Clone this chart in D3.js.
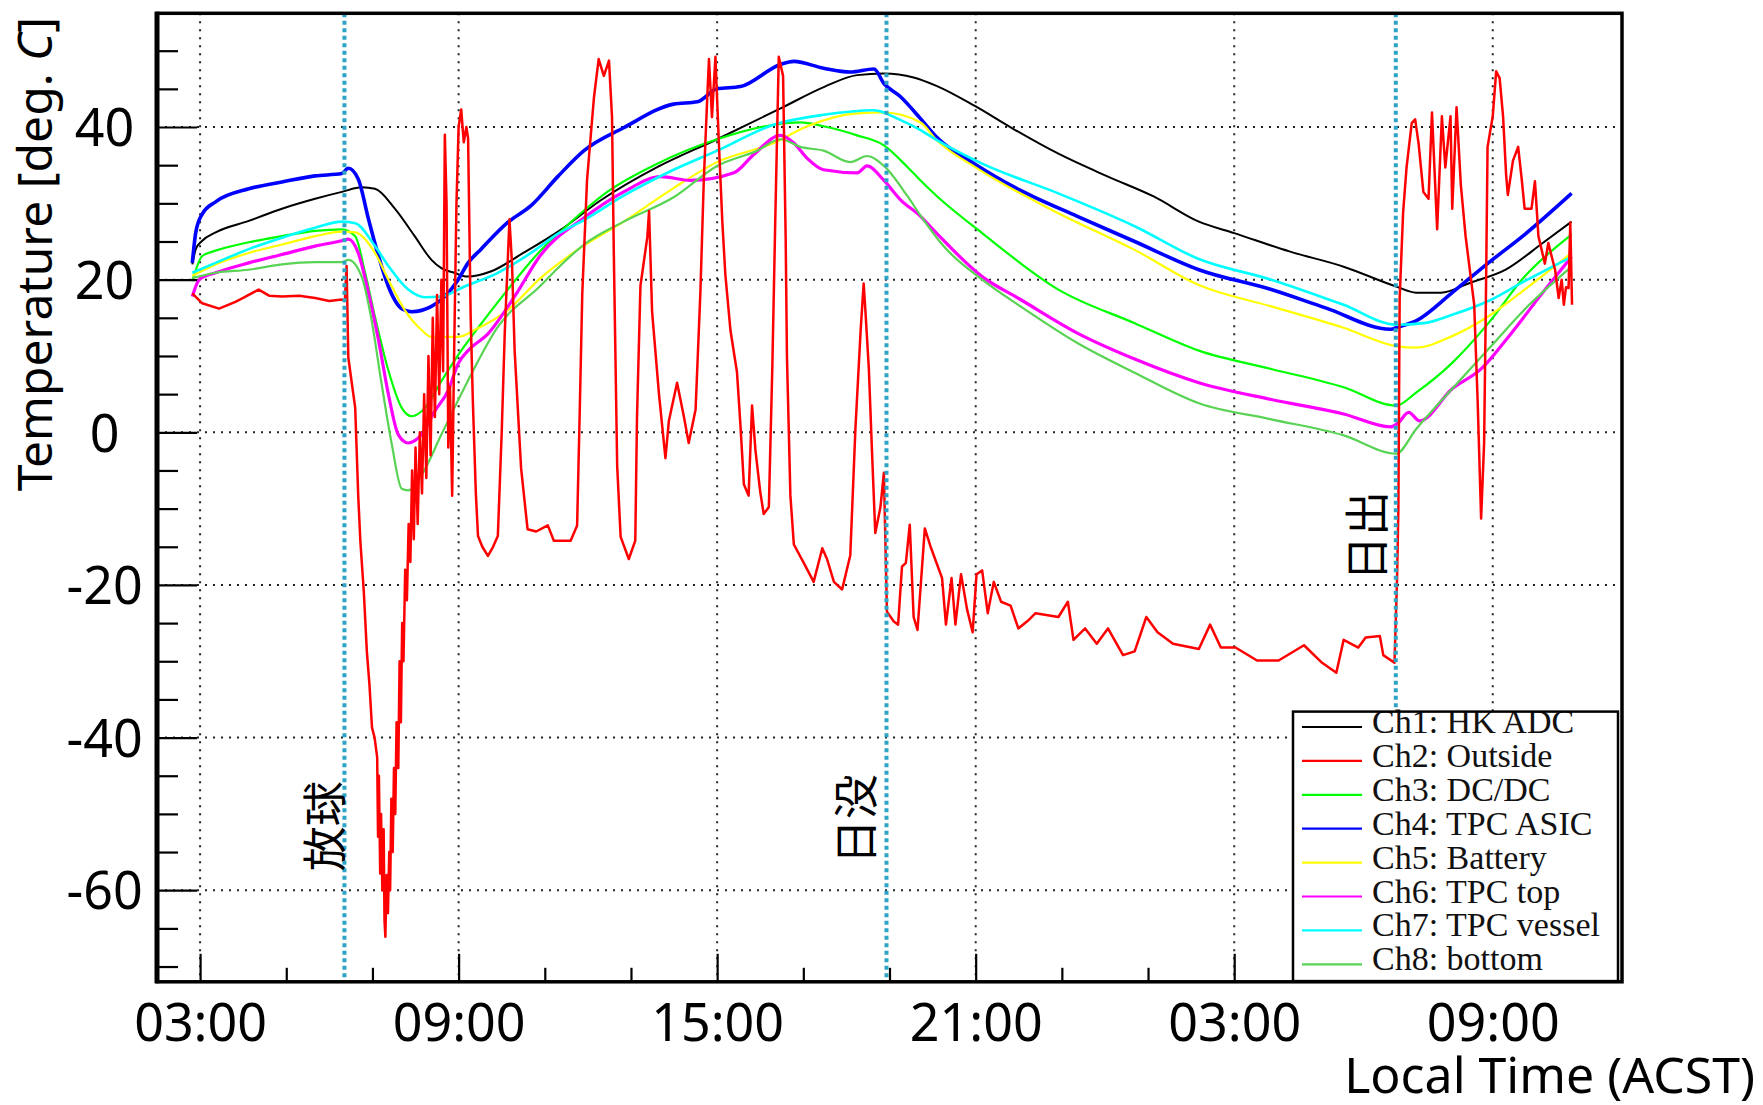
<!DOCTYPE html>
<html>
<head>
<meta charset="utf-8">
<script src="https://cdn.jsdelivr.net/npm/d3@7"></script>
<style>
  html, body { margin: 0; padding: 0; background: #fff; }
  svg { display: block; }
</style>
</head>
<body>
<svg id="chart" width="1763" height="1105"></svg>
<script>
// ---------------- DATA (hours since 00:00 of day 1, temperature in deg C) ----------------
const xTickHours  = [3, 9, 15, 21, 27, 33];
const xTickLabels = ["03:00", "09:00", "15:00", "21:00", "03:00", "09:00"];
const xMinorHours = [5, 7, 11, 13, 17, 19, 23, 25, 29, 31, 35];
const yTickValues = [-60, -40, -20, 0, 20, 40];
const yTickLabels = ["-60", "-40", "-20", "0", "20", "40"];
const yMinorValues = [-70,-65,-55,-50,-45,-35,-30,-25,-15,-10,-5,5,10,15,25,30,35,45,50];

const eventHours  = [6.35, 18.93, 30.75];
const eventLabels = ["放球", "日没", "日出"];

const seriesNames = ["Ch1: HK ADC", "Ch2: Outside", "Ch3: DC/DC", "Ch4: TPC ASIC",
                     "Ch5: Battery", "Ch6: TPC top", "Ch7: TPC vessel", "Ch8: bottom"];

const ch1 = [[2.82,22.0],[2.9,24.0],[3.05,25.1],[3.36,26.2],[4.13,27.7],[4.9,29.3],[5.67,30.6],[6.29,31.5],[6.75,32.1],[7.06,31.9],[7.52,29.3],[7.98,25.7],[8.37,22.6],[8.6,21.5],[8.9,20.9],[9.2,20.4],[9.76,21.1],[10.5,23.5],[11.36,26.5],[12.3,30.4],[13.63,34.8],[15.0,38.4],[16.46,42.4],[17.5,45.3],[18.25,46.8],[18.87,47.0],[19.56,46.5],[20.09,45.4],[20.97,42.8],[21.86,39.8],[22.92,36.5],[24.07,33.5],[25.13,30.9],[26.18,27.6],[27.0,26.1],[28.28,23.7],[29.54,21.7],[30.76,19.1],[31.22,18.3],[31.8,18.3],[32.48,19.6],[33.3,21.3],[34.16,24.8],[34.83,27.6]];

const ch2 = [[2.82,18.2],[3.05,16.9],[3.44,16.2],[3.82,17.1],[4.0,17.6],[4.36,18.7],[4.6,17.9],[4.9,17.8],[5.3,17.9],[5.67,17.6],[6.0,17.2],[6.29,17.4],[6.36,17.2],[6.4,21.8],[6.44,9.8],[6.6,3.2],[6.67,-8.3],[6.72,-14.3],[6.8,-20.9],[6.87,-28.7],[6.93,-33],[6.99,-38.7],[7.05,-40],[7.11,-42.6],[7.13,-53],[7.15,-45],[7.18,-57.8],[7.2,-50],[7.23,-60],[7.26,-52],[7.28,-64],[7.3,-66.1],[7.33,-58],[7.36,-63],[7.39,-55],[7.41,-60],[7.44,-48],[7.47,-55],[7.5,-44],[7.53,-50],[7.56,-38],[7.6,-44],[7.63,-30],[7.66,-38],[7.69,-25],[7.72,-30],[7.76,-18],[7.8,-22],[7.84,-12],[7.88,-17],[7.92,-5],[7.96,-14],[8.0,-2],[8.05,-12],[8.1,0],[8.15,-8],[8.2,5],[8.25,-6],[8.3,10],[8.35,-3],[8.4,15],[8.45,2],[8.5,18],[8.55,5],[8.6,20],[8.64,8],[8.68,39],[8.72,30],[8.76,-2],[8.8,6],[8.85,-8.3],[8.9,12],[8.95,30],[9.0,40],[9.06,42.3],[9.12,38],[9.18,40],[9.22,38.5],[9.28,15],[9.33,4.1],[9.4,-8],[9.45,-13.6],[9.55,-15],[9.68,-16.2],[9.8,-15],[9.91,-13.6],[10.0,0],[10.07,12.9],[10.18,27.9],[10.24,22],[10.3,10.7],[10.45,-4.7],[10.6,-12.7],[10.8,-13],[11.07,-12.2],[11.21,-14.2],[11.6,-14.2],[11.75,-12.2],[11.81,2.5],[11.87,18.2],[11.98,33.0],[12.14,43.8],[12.25,48.9],[12.37,46.7],[12.49,48.7],[12.56,41.3],[12.6,24.1],[12.68,-4.4],[12.76,-13.7],[12.95,-16.6],[13.1,-14.2],[13.14,2.0],[13.22,19.2],[13.38,25.6],[13.42,29.0],[13.49,15.8],[13.65,5.0],[13.8,-3.4],[13.88,1.5],[14.07,6.5],[14.23,2.0],[14.34,-1.4],[14.5,3.0],[14.61,18.2],[14.69,33.0],[14.77,43.8],[14.81,48.9],[14.88,41.3],[14.96,49.2],[15.04,37.9],[15.12,27.6],[15.19,20.7],[15.31,13.3],[15.46,7.9],[15.54,1.0],[15.62,-6.8],[15.73,-8.3],[15.81,3.5],[15.89,-2.4],[16.0,-7.8],[16.08,-10.7],[16.2,-9.8],[16.28,8.4],[16.35,28.1],[16.43,49.2],[16.53,46.7],[16.59,25.6],[16.62,9.9],[16.7,-8.3],[16.78,-14.7],[17.01,-17.1],[17.24,-19.6],[17.44,-15.2],[17.55,-16.6],[17.71,-19.6],[17.9,-20.6],[18.09,-16.1],[18.21,0.6],[18.33,13.3],[18.4,19.5],[18.44,16],[18.52,8.4],[18.6,-3.4],[18.67,-13.2],[18.79,-9.8],[18.87,-5.3],[18.94,-23.5],[19.1,-24.8],[19.2,-25.2],[19.29,-17.6],[19.38,-17.1],[19.47,-12.1],[19.56,-24.2],[19.65,-25.9],[19.82,-12.6],[19.96,-15.1],[20.09,-17.1],[20.22,-19.1],[20.31,-25.2],[20.44,-19.1],[20.53,-25.2],[20.66,-18.6],[20.8,-23.2],[20.93,-26.2],[21.02,-18.6],[21.15,-18.1],[21.28,-23.7],[21.42,-19.6],[21.59,-22.2],[21.81,-22.7],[21.99,-25.7],[22.21,-24.7],[22.39,-23.7],[22.92,-24.2],[23.14,-22.2],[23.27,-27.2],[23.54,-25.7],[23.81,-27.7],[24.07,-25.7],[24.42,-29.2],[24.69,-28.7],[24.96,-24.2],[25.22,-26.2],[25.58,-27.7],[26.18,-28.4],[26.44,-25.2],[26.69,-28.2],[27.03,-28.2],[27.53,-29.9],[28.03,-29.9],[28.62,-27.9],[29.04,-30.2],[29.37,-31.5],[29.54,-27.2],[29.88,-28.2],[30.05,-26.9],[30.38,-26.7],[30.46,-29.2],[30.72,-30.2],[30.78,-19.1],[30.81,-10],[30.84,17.6],[30.92,28.8],[31.0,34.7],[31.12,40.5],[31.2,41.0],[31.28,37.8],[31.39,31.5],[31.51,30.6],[31.59,41.9],[31.71,26.6],[31.82,41.4],[31.9,34.7],[32.02,41.4],[32.06,29.3],[32.16,42.6],[32.26,32.4],[32.37,25.7],[32.45,22.1],[32.57,16.7],[32.65,4.1],[32.73,-11.3],[32.8,-1.4],[32.84,16.7],[32.88,37.4],[33.0,41.4],[33.08,47.3],[33.16,46.4],[33.24,41.4],[33.31,33.8],[33.35,31.1],[33.47,35.6],[33.59,37.4],[33.67,33.3],[33.74,29.3],[33.9,29.3],[33.98,32.9],[34.06,25.7],[34.21,22.1],[34.29,24.8],[34.45,21.2],[34.53,17.6],[34.6,20],[34.65,16.7],[34.7,19],[34.76,18.9],[34.8,27.5],[34.84,16.7]];

const ch3 = [[2.82,19.8],[3.05,23.1],[3.36,23.8],[4.13,24.9],[4.9,25.7],[5.67,26.4],[6.29,26.6],[6.6,25.7],[6.83,20.9],[7.06,15.1],[7.37,8.1],[7.68,3.2],[7.91,2.1],[8.22,3.2],[8.6,6.7],[9.06,10.7],[9.52,14.2],[10.14,18.7],[10.9,23.8],[11.5,27.0],[12.45,31.5],[13.61,35.2],[15.0,38.4],[16.31,40.3],[16.93,40.6],[17.47,40.1],[18.25,38.9],[18.87,37.6],[19.41,34.8],[19.72,33.0],[20.09,31.0],[21.15,26.1],[22.92,18.7],[24.69,14.3],[26.18,10.7],[27.86,8.3],[29.54,5.9],[30.76,3.5],[31.22,5.2],[32.06,9.1],[32.9,14.3],[33.74,20.4],[34.83,25.9]];

const ch4 = [[2.82,22.2],[2.9,26.2],[3.05,28.6],[3.36,30.2],[4.13,31.9],[4.9,32.8],[5.67,33.6],[6.29,33.9],[6.44,34.6],[6.67,33.2],[6.91,27.9],[7.14,23.1],[7.37,19.1],[7.68,16.2],[7.91,15.8],[8.37,16.5],[8.68,17.8],[8.99,20.0],[9.22,22.2],[9.52,24.0],[10.14,27.5],[10.68,29.7],[11.3,33.5],[11.91,36.9],[12.83,39.9],[13.99,43.0],[14.54,43.3],[15.0,45.0],[15.54,45.3],[16.47,48.2],[16.78,48.6],[17.47,47.7],[18.09,47.2],[18.64,47.6],[18.87,45.7],[19.25,44.0],[19.72,41.1],[20.09,38.7],[20.97,35.2],[22.04,31.7],[23.36,28.3],[24.69,25.0],[26.18,21.3],[27.86,18.7],[29.12,16.3],[30.63,13.5],[30.8,13.8],[31.22,14.6],[32.06,18.3],[32.9,22.2],[33.74,25.9],[34.83,31.3]];

const ch5 = [[2.82,20.5],[3.36,22.0],[4.13,23.5],[4.9,24.6],[5.67,25.7],[6.29,26.3],[6.6,26.2],[7.06,23.5],[7.37,20.0],[7.75,16.0],[8.14,13.4],[8.37,12.5],[8.99,12.5],[9.37,13.4],[10.14,16.0],[10.9,20.2],[11.68,23.6],[12.83,27.6],[13.99,32.0],[15.0,35.4],[16.31,37.9],[17.09,40.1],[18.25,41.8],[18.87,41.9],[19.72,40.6],[20.09,38.3],[20.97,34.8],[22.92,28.7],[24.69,23.9],[26.18,19.3],[27.86,16.5],[29.54,13.7],[30.76,11.3],[31.22,11.1],[32.06,12.6],[32.9,15.2],[33.74,18.7],[34.83,23.5]];

const ch6 = [[2.82,17.8],[2.98,20.0],[3.36,20.9],[4.13,22.2],[4.9,23.3],[5.67,24.4],[6.29,25.1],[6.44,25.3],[6.67,23.5],[6.91,18.2],[7.14,12.1],[7.37,5.0],[7.6,-0.3],[7.83,-1.4],[8.14,-0.3],[8.45,2.8],[8.76,5.5],[8.99,9.0],[9.22,10.7],[9.68,12.9],[10.3,17.8],[10.9,23.2],[11.91,28.1],[12.83,31.5],[13.69,33.5],[14.38,33.0],[15.39,34.0],[15.85,36.4],[16.47,38.9],[16.78,37.9],[17.09,35.9],[17.47,34.4],[18.25,34.0],[18.48,34.9],[18.87,33.0],[19.25,30.5],[19.72,28.3],[20.09,26.1],[21.15,20.4],[22.04,17.4],[23.36,13.0],[24.69,9.6],[26.18,6.5],[27.86,4.3],[29.54,2.4],[30.63,0.7],[30.8,1.2],[31.05,2.6],[31.3,1.5],[32.06,5.7],[32.73,8.3],[33.32,12.2],[34.16,18.3],[34.83,23.0]];

const ch7 = [[2.82,20.9],[3.36,22.2],[4.13,24.0],[4.9,25.5],[5.67,26.8],[6.29,27.6],[6.6,27.4],[7.06,24.4],[7.37,21.8],[7.83,18.7],[8.22,17.7],[8.6,17.8],[9.14,19.1],[9.91,20.9],[10.68,23.5],[11.3,26.0],[11.91,27.8],[12.83,31.0],[13.99,34.4],[15.0,36.9],[16.31,40.3],[17.47,41.6],[18.63,42.2],[18.87,41.9],[19.03,41.5],[19.72,39.6],[20.09,38.3],[21.15,35.2],[22.92,31.3],[24.69,27.0],[26.18,22.7],[27.86,20.0],[29.54,16.7],[30.76,14.1],[31.39,14.3],[32.06,15.4],[32.9,17.2],[33.74,19.8],[34.83,23.0]];

const ch8 = [[2.82,20.2],[3.36,20.9],[4.13,21.3],[4.9,22.0],[5.67,22.3],[6.29,22.3],[6.44,22.6],[6.75,20.4],[6.98,14.7],[7.2,6.8],[7.45,-1.6],[7.68,-7.4],[7.83,-7.6],[8.14,-5.6],[8.6,-0.3],[9.14,5.9],[9.91,13.8],[10.9,19.2],[11.3,21.5],[11.91,24.6],[12.83,27.6],[13.99,30.8],[15.0,34.9],[15.93,36.9],[16.47,38.4],[16.93,37.4],[17.47,36.9],[18.09,35.4],[18.48,36.2],[18.87,34.9],[19.41,31.0],[19.72,28.4],[20.27,24.3],[21.15,20.0],[22.04,16.5],[23.36,11.7],[24.69,7.8],[26.18,3.8],[27.86,1.7],[29.54,-0.4],[30.76,-2.8],[31.22,0.4],[32.06,5.7],[32.9,10.9],[33.74,16.1],[34.83,21.7]];

// ---------------- LAYOUT / STYLE ----------------
const W = 1763, H = 1105;
const plot = { left: 157, right: 1622, top: 13.3, bottom: 981.8 };
const seriesData   = [ch1, ch2, ch3, ch4, ch5, ch6, ch7, ch8];
const seriesColors = ["#000000", "#ff0000", "#00ff00", "#0000ff", "#ffff00", "#ff00ff", "#00ffff", "#59d354"];
const seriesWidths = [2, 2.5, 2.2, 3.6, 2.2, 3.2, 2.6, 2.2];
const seriesSmooth = [true, false, true, true, true, true, true, true];
const drawOrder    = [0, 2, 3, 4, 5, 6, 7, 1];
const eventLabelBottom = [-57.5, -56.6, -19.5];   // in temperature units
const eventLabelOffset = [-2, -13, -12];         // baseline x offset from the line (px)
const eventColor = "#2ba4c6";

const svg = d3.select("#chart");
const x = d3.scaleLinear().domain([2, 36]).range([plot.left, plot.right]);
const y = d3.scaleLinear().domain([-72, 54.9]).range([plot.bottom, plot.top]);

svg.append("rect").attr("width", W).attr("height", H).attr("fill", "#fff");

// grid
const grid = svg.append("g").attr("stroke", "#222").attr("stroke-width", 2).attr("stroke-dasharray", "2,6");
grid.selectAll("line.v").data(xTickHours).join("line")
  .attr("x1", d => x(d)).attr("x2", d => x(d)).attr("y1", plot.top).attr("y2", plot.bottom);
grid.selectAll("line.h").data(yTickValues).join("line")
  .attr("x1", plot.left).attr("x2", plot.right).attr("y1", d => y(d)).attr("y2", d => y(d));

// series
const lineSmooth = d3.line().x(d => x(d[0])).y(d => y(d[1])).curve(d3.curveMonotoneX);
const lineRaw    = d3.line().x(d => x(d[0])).y(d => y(d[1]));
const gSeries = svg.append("g").attr("fill", "none").attr("stroke-linejoin", "round");
drawOrder.forEach(i => {
  const gen = seriesSmooth[i] ? lineSmooth : lineRaw;
  gSeries.append("path").attr("d", gen(seriesData[i]))
    .attr("stroke", seriesColors[i]).attr("stroke-width", seriesWidths[i]);
});

// event lines
const gEv = svg.append("g");
gEv.selectAll("line").data(eventHours).join("line")
  .attr("x1", d => x(d)).attr("x2", d => x(d))
  .attr("y1", plot.top).attr("y2", plot.bottom)
  .attr("stroke", eventColor).attr("stroke-width", 4).attr("stroke-dasharray", "4,3.5");
gEv.selectAll("text").data(eventLabels).join("text")
  .attr("transform", (d, i) => `translate(${x(eventHours[i]) + eventLabelOffset[i]},${y(eventLabelBottom[i])}) rotate(-90)`)
  .attr("font-family", "'Noto Sans CJK JP', 'Noto Sans CJK SC', sans-serif")
  .attr("font-size", 45).attr("fill", "#000").attr("text-anchor", "start")
  .text(d => d);

// axes
const fontMain = "'Noto Sans', 'DejaVu Sans', sans-serif";
const xAxis = d3.axisBottom(x).tickValues(xTickHours).tickSize(-28).tickSizeOuter(0).tickPadding(22)
  .tickFormat((d, i) => xTickLabels[i]);
const xMinor = d3.axisBottom(x).tickValues(xMinorHours).tickSize(-14).tickSizeOuter(0).tickFormat("");
const gx = svg.append("g").attr("transform", `translate(0,${plot.bottom})`).call(xAxis);
const gxm = svg.append("g").attr("transform", `translate(0,${plot.bottom})`).call(xMinor);
const yAxis = d3.axisLeft(y).tickValues(yTickValues).tickSize(-40).tickSizeOuter(0).tickPadding(22)
  .tickFormat((d, i) => yTickLabels[i]);
const yMinor = d3.axisLeft(y).tickValues(yMinorValues).tickSize(-21).tickSizeOuter(0).tickFormat("");
const gy = svg.append("g").attr("transform", `translate(${plot.left},0)`).call(yAxis);
const gym = svg.append("g").attr("transform", `translate(${plot.left},0)`).call(yMinor);
[gx, gxm, gy, gym].forEach(g => {
  g.select(".domain").remove();
  g.selectAll(".tick line").attr("stroke", "#000").attr("stroke-width", 2.2);
  g.selectAll(".tick text").attr("font-family", fontMain).attr("font-size", 52).attr("fill", "#000");
});
gy.selectAll(".tick text").attr("dy", "0.36em").attr("x", -52.5).attr("text-anchor", "middle");

// legend
const leg = { x: 1293, y: 711.6, w: 325, h: 269.5, row0: 727, rowStep: 33.9 };
const gl = svg.append("g");
gl.append("rect").attr("x", leg.x).attr("y", leg.y).attr("width", leg.w).attr("height", leg.h).attr("fill", "#fff");
seriesNames.forEach((name, i) => {
  const yy = leg.row0 + i * leg.rowStep;
  gl.append("line").attr("x1", leg.x + 9).attr("x2", leg.x + 69).attr("y1", yy).attr("y2", yy)
    .attr("stroke", seriesColors[i]).attr("stroke-width", 2.2);
  gl.append("text").attr("x", leg.x + 79).attr("y", yy + 6)
    .attr("font-family", "'Liberation Serif', 'Times New Roman', serif").attr("font-size", 34)
    .attr("fill", "#111").text(name);
});
gl.append("rect").attr("x", leg.x).attr("y", leg.y).attr("width", leg.w).attr("height", leg.h)
  .attr("fill", "none").attr("stroke", "#000").attr("stroke-width", 2.5);

// frame
svg.append("rect").attr("x", plot.left).attr("y", plot.top)
  .attr("width", plot.right - plot.left).attr("height", plot.bottom - plot.top)
  .attr("fill", "none").attr("stroke", "#000").attr("stroke-width", 3.5);
svg.append("line").attr("x1", plot.left).attr("x2", plot.left).attr("y1", plot.top - 1.5).attr("y2", plot.bottom + 1.5)
  .attr("stroke", "#000").attr("stroke-width", 5);

// axis titles
const yt = svg.append("text")
  .attr("transform", `translate(52,17) rotate(-90)`)
  .attr("text-anchor", "end").attr("font-family", fontMain).attr("font-size", 48).attr("fill", "#000");
yt.append("tspan").text("Temperature [deg. ");
yt.append("tspan").attr("font-style", "italic").text("C");
yt.append("tspan").text("]");

svg.append("text").attr("x", 1755).attr("y", 1093).attr("text-anchor", "end")
  .attr("font-family", fontMain).attr("font-size", 50).attr("fill", "#000")
  .text("Local Time (ACST)");
</script>
</body>
</html>
